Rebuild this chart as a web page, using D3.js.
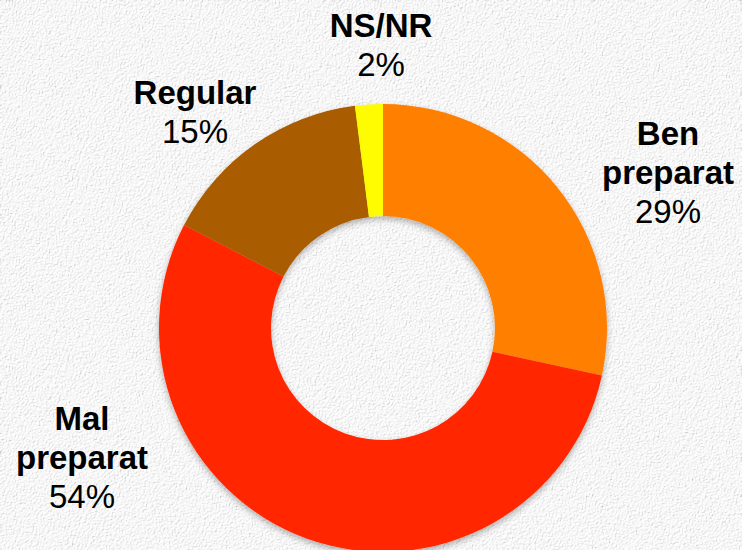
<!DOCTYPE html>
<html>
<head>
<meta charset="utf-8">
<script src="https://cdn.jsdelivr.net/npm/d3@7"></script>
<style>
  html, body { margin: 0; padding: 0; background: #efefef; }
  svg { display: block; }
</style>
</head>
<body>
<div id="chart"></div>
<script>
// data (clockwise from 12 o'clock)
const categories = ["Ben preparat", "Mal preparat", "Regular", "NS/NR"];
const values = [28.4, 54.2, 15.4, 2.0];
const pctLabels = ["29%", "54%", "15%", "2%"];
const colors = ["#ff7f00", "#ff2800", "#a95b00", "#fffb00"];

const width = 742, height = 550;
const cx = 383, cy = 328, outerR = 224, innerR = 112;
const lineH = 39;

// where keynote put the labels (first baseline, centre x)
const labelLayout = {
  "Ben preparat": { x: 668, y: 145, lines: ["Ben", "preparat"] },
  "Mal preparat": { x: 82, y: 430, lines: ["Mal", "preparat"] },
  "Regular": { x: 195, y: 104, lines: ["Regular"] },
  "NS/NR": { x: 381, y: 37, lines: ["NS/NR"] }
};

const svg = d3.select("#chart").append("svg")
  .attr("width", width)
  .attr("height", height);

const defs = svg.append("defs");

// paper texture for the background
const paper = defs.append("filter").attr("id", "paper")
  .attr("x", 0).attr("y", 0).attr("width", "100%").attr("height", "100%");
paper.append("feTurbulence")
  .attr("type", "fractalNoise")
  .attr("baseFrequency", 0.7)
  .attr("numOctaves", 3)
  .attr("seed", 4)
  .attr("result", "noise");
paper.append("feDiffuseLighting")
  .attr("in", "noise")
  .attr("lighting-color", "#ffffff")
  .attr("surfaceScale", 1.6)
  .append("feDistantLight")
  .attr("azimuth", 45)
  .attr("elevation", 70);

const shadow = defs.append("filter").attr("id", "shadow")
  .attr("x", "-20%").attr("y", "-20%").attr("width", "140%").attr("height", "140%");
shadow.append("feDropShadow")
  .attr("dx", 0).attr("dy", 3)
  .attr("stdDeviation", 3)
  .attr("flood-color", "#000")
  .attr("flood-opacity", 0.3);

svg.append("rect")
  .attr("width", width)
  .attr("height", height)
  .attr("filter", "url(#paper)");

const pie = d3.pie().sort(null).value(d => d.value);
const arc = d3.arc().innerRadius(innerR).outerRadius(outerR);

const data = categories.map((c, i) => ({ name: c, value: values[i], pct: pctLabels[i], color: colors[i] }));

const donut = svg.append("g")
  .attr("transform", `translate(${cx},${cy})`)
  .attr("filter", "url(#shadow)");

donut.selectAll("path")
  .data(pie(data))
  .join("path")
  .attr("d", arc)
  .attr("fill", d => d.data.color);

// labels
const labels = svg.selectAll("g.label")
  .data(data)
  .join("g")
  .attr("class", "label")
  .attr("transform", d => `translate(${labelLayout[d.name].x},${labelLayout[d.name].y})`);

labels.each(function(d) {
  const g = d3.select(this);
  const lines = labelLayout[d.name].lines;
  const t = g.append("text")
    .attr("text-anchor", "middle")
    .style("font-family", "'Liberation Sans', Arial, Helvetica, sans-serif")
    .style("font-size", "33px")
    .style("fill", "#000");
  lines.forEach((ln, i) => {
    t.append("tspan")
      .attr("x", 0)
      .attr("y", i * lineH)
      .style("font-weight", "bold")
      .text(ln);
  });
  t.append("tspan")
    .attr("x", 0)
    .attr("y", lines.length * lineH)
    .text(d.pct);
});
</script>
</body>
</html>
